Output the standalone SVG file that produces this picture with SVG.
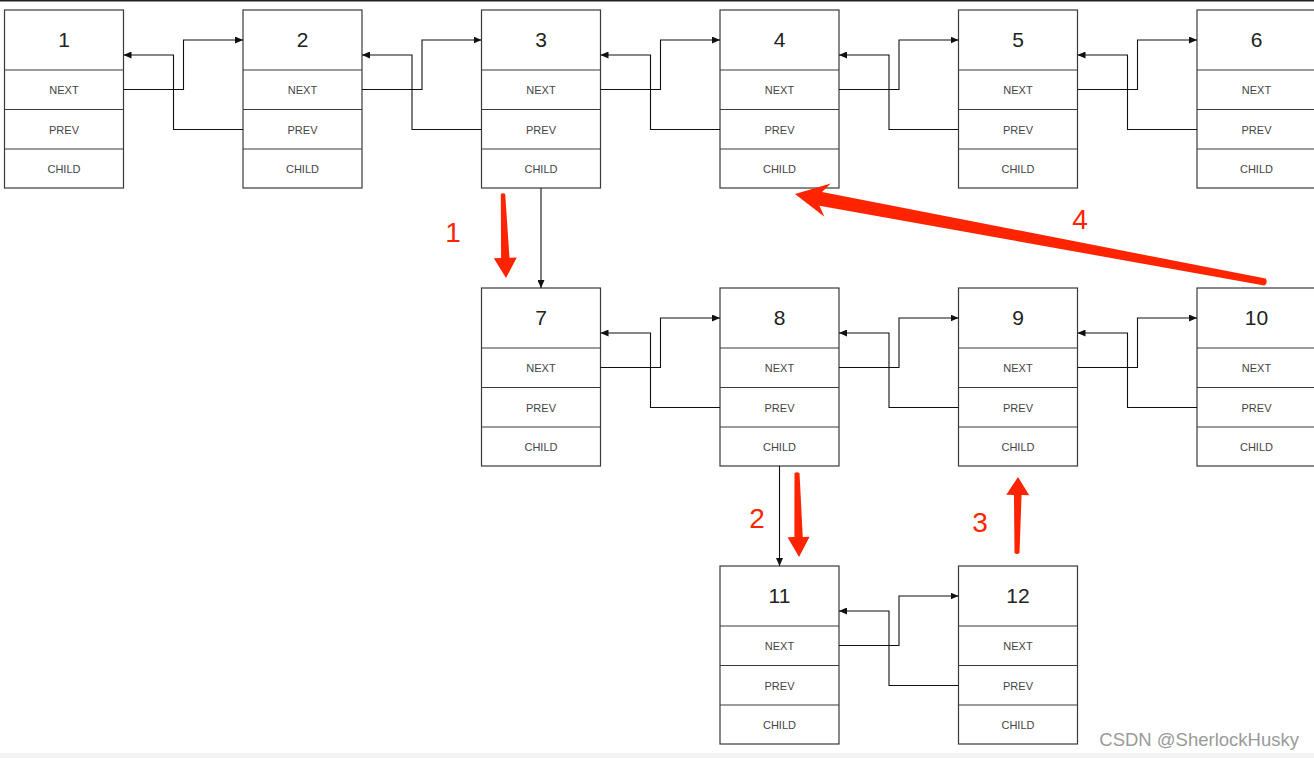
<svg xmlns="http://www.w3.org/2000/svg" width="1314" height="758" viewBox="0 0 1314 758">
<style>
.box{fill:#fff;stroke:#3a3a3a;stroke-width:1.2}
.sep{stroke:#3a3a3a;stroke-width:1.2}
.num{font-family:"Liberation Sans",Arial,sans-serif;font-size:21px;fill:#222;text-anchor:middle}
.fld{font-family:"Liberation Sans",Arial,sans-serif;font-size:11px;fill:#444;text-anchor:middle}
.con{fill:none;stroke:#111;stroke-width:1.1;marker-end:url(#ah)}
.red{fill:#ff2400}
.rl{font-family:"Liberation Sans",Arial,sans-serif;font-size:28px;fill:#ff2400;text-anchor:middle}
.wm{font-family:"Liberation Sans",Arial,sans-serif;font-size:18.5px;fill:#9a9a9a;text-anchor:end}
</style>
<defs>
<marker id="ah" markerUnits="userSpaceOnUse" markerWidth="8" markerHeight="7" refX="8" refY="3.5" orient="auto">
<path d="M0,0 L8,3.5 L0,7 z" fill="#111"/>
</marker>
<g id="nodebody">
<rect class="box" x="0" y="0" width="119" height="178"/>
<line class="sep" x1="0" y1="60" x2="119" y2="60"/>
<line class="sep" x1="0" y1="99.5" x2="119" y2="99.5"/>
<line class="sep" x1="0" y1="139" x2="119" y2="139"/>
<text class="fld" x="59.5" y="83.5">NEXT</text>
<text class="fld" x="59.5" y="123.5">PREV</text>
<text class="fld" x="59.5" y="162.5">CHILD</text>
</g>
</defs>
<rect x="0" y="0" width="1314" height="758" fill="#fff"/>
<rect x="0" y="0" width="1314" height="1.5" fill="#222"/>
<rect x="0" y="753" width="1314" height="5" fill="#f2f2f2"/>

<g id="node1" transform="translate(4.5,10)"><use href="#nodebody"/><text class="num" x="59.5" y="37">1</text></g>
<g id="node2" transform="translate(243,10)"><use href="#nodebody"/><text class="num" x="59.5" y="37">2</text></g>
<g id="node3" transform="translate(481.5,10)"><use href="#nodebody"/><text class="num" x="59.5" y="37">3</text></g>
<g id="node4" transform="translate(720,10)"><use href="#nodebody"/><text class="num" x="59.5" y="37">4</text></g>
<g id="node5" transform="translate(958.5,10)"><use href="#nodebody"/><text class="num" x="59.5" y="37">5</text></g>
<g id="node6" transform="translate(1197,10)"><use href="#nodebody"/><text class="num" x="59.5" y="37">6</text></g>
<g id="node7" transform="translate(481.5,288)"><use href="#nodebody"/><text class="num" x="59.5" y="37">7</text></g>
<g id="node8" transform="translate(720,288)"><use href="#nodebody"/><text class="num" x="59.5" y="37">8</text></g>
<g id="node9" transform="translate(958.5,288)"><use href="#nodebody"/><text class="num" x="59.5" y="37">9</text></g>
<g id="node10" transform="translate(1197,288)"><use href="#nodebody"/><text class="num" x="59.5" y="37">10</text></g>
<g id="node11" transform="translate(720,566)"><use href="#nodebody"/><text class="num" x="59.5" y="37">11</text></g>
<g id="node12" transform="translate(958.5,566)"><use href="#nodebody"/><text class="num" x="59.5" y="37">12</text></g>

<g id="connectors">
<path class="con" d="M123.5,89.5 H183.5 V40 H243"/>
<path class="con" d="M243,129.5 H173.5 V55 H123.5"/>
<path class="con" d="M362,89.5 H422 V40 H481.5"/>
<path class="con" d="M481.5,129.5 H412 V55 H362"/>
<path class="con" d="M600.5,89.5 H660.5 V40 H720"/>
<path class="con" d="M720,129.5 H650.5 V55 H600.5"/>
<path class="con" d="M839,89.5 H899 V40 H958.5"/>
<path class="con" d="M958.5,129.5 H889 V55 H839"/>
<path class="con" d="M1077.5,89.5 H1137.5 V40 H1197"/>
<path class="con" d="M1197,129.5 H1127.5 V55 H1077.5"/>

<path class="con" d="M600.5,367.5 H660.5 V318 H720"/>
<path class="con" d="M720,407.5 H650.5 V333 H600.5"/>
<path class="con" d="M839,367.5 H899 V318 H958.5"/>
<path class="con" d="M958.5,407.5 H889 V333 H839"/>
<path class="con" d="M1077.5,367.5 H1137.5 V318 H1197"/>
<path class="con" d="M1197,407.5 H1127.5 V333 H1077.5"/>

<path class="con" d="M839,645.5 H899 V596 H958.5"/>
<path class="con" d="M958.5,685.5 H889 V611 H839"/>

<path class="con" d="M541,188 V288"/>
<path class="con" d="M779.5,466 V566"/>
</g>

<g id="red-arrows">
<path class="red" transform="translate(503,194) rotate(87.95)" d="M0,-2.2 L64,-4.2 L64,-11.5 L84,0 L64,11.5 L64,4.2 L0,2.2 Q-1.5,0 0,-2.2 z"/>
<path class="red" transform="translate(797,473) rotate(88.6)" d="M0,-2.5 L64,-4.2 L64,-11 L84,0 L64,11 L64,4.2 L0,2.5 Q-1.5,0 0,-2.5 z"/>
<path class="red" transform="translate(1017,553) rotate(-89.25)" d="M0,-2.5 L58,-3.8 L58,-11.5 L76,0 L58,11.5 L58,3.8 L0,2.5 Q-2,0 0,-2.5 z"/>
<path class="red" transform="translate(1265,282) rotate(190.6)" d="M0,-3.5 L452,-7 L445,-17 L478.2,0 L445,17 L452,7 L0,3.5 Q-3.5,0 0,-3.5 z"/>
<text class="rl" x="453" y="242">1</text>
<text class="rl" x="757" y="528">2</text>
<text class="rl" x="980" y="532">3</text>
<text class="rl" x="1080" y="229">4</text>
</g>

<text class="wm" x="1299" y="746">CSDN @SherlockHusky</text>
</svg>
